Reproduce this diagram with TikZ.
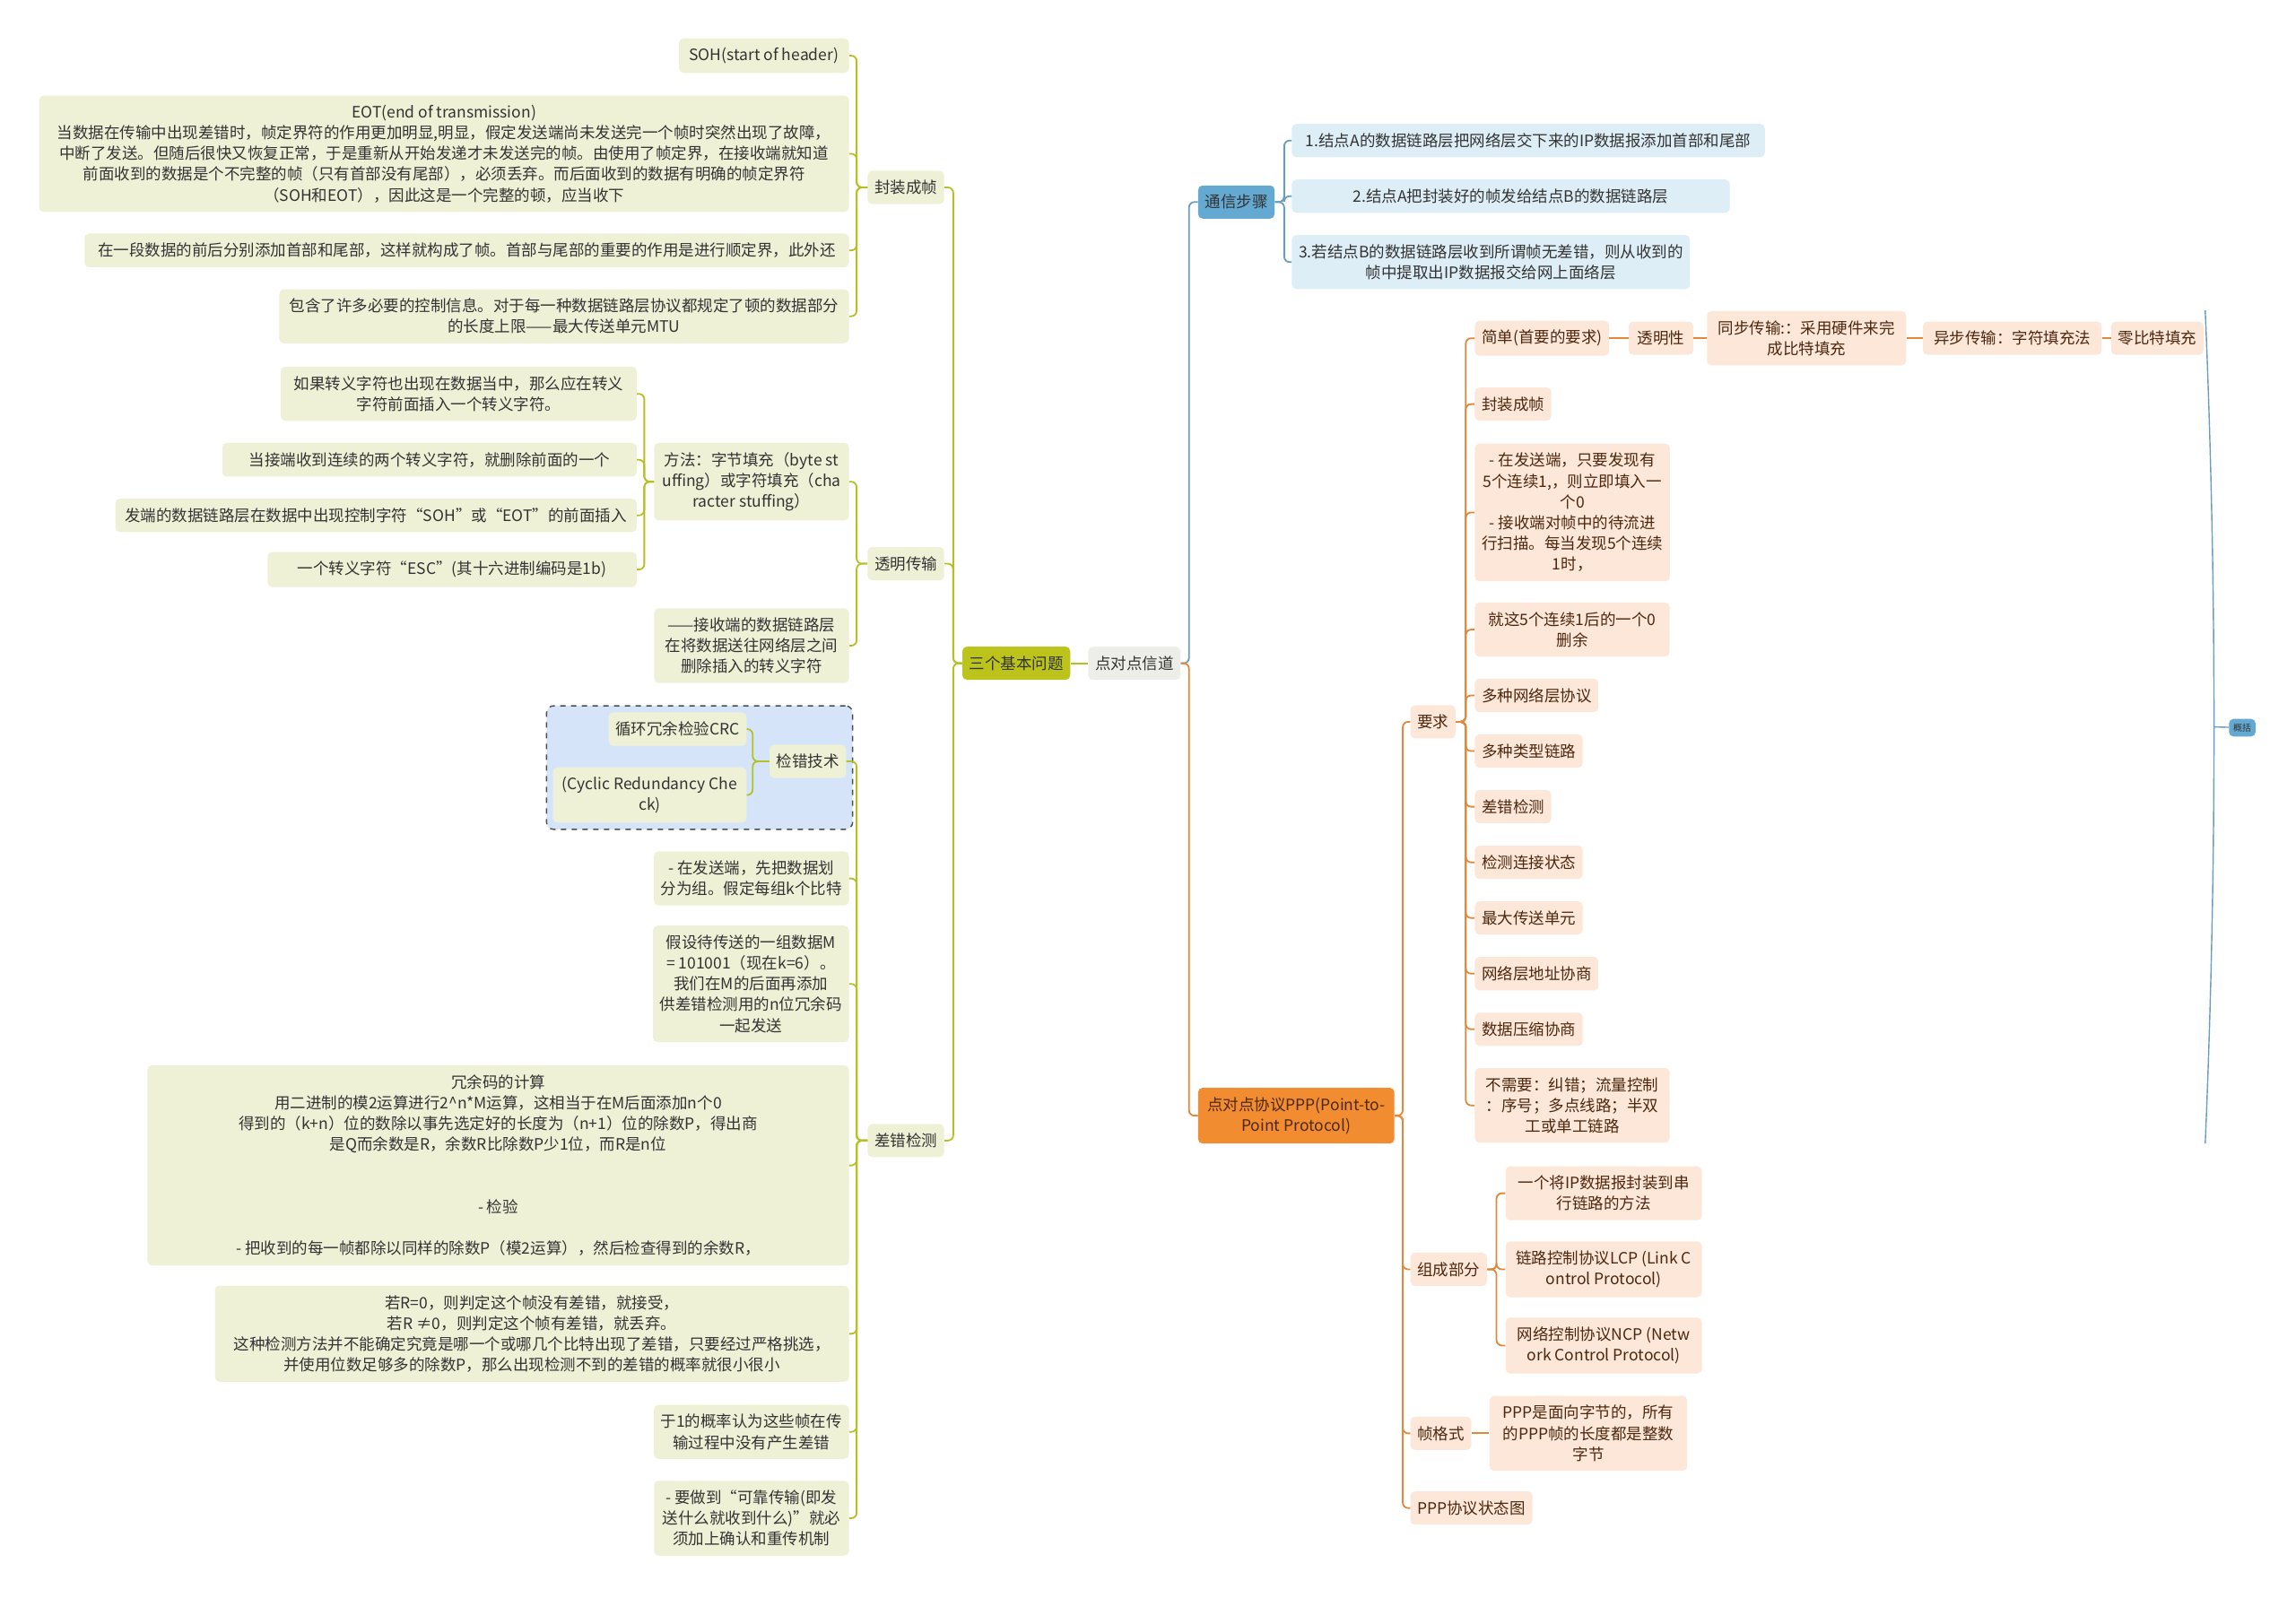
\documentclass[tikz,border=0pt]{standalone}
\usepackage{fontspec}
\setmainfont{Noto Sans CJK SC}
\usepackage{tikz}
\usetikzlibrary{positioning,fit,backgrounds}

\definecolor{olvlight}{HTML}{EFF1D6}
\definecolor{olvdark}{HTML}{BCC41C}
\definecolor{olvline}{HTML}{B5C024}
\definecolor{chanfill}{HTML}{EEEEE8}
\definecolor{blulight}{HTML}{DDEEF7}
\definecolor{bludark}{HTML}{63A9D1}
\definecolor{bluline}{HTML}{6A9EBE}
\definecolor{orglight}{HTML}{FDE7D8}
\definecolor{orgdark}{HTML}{F28C30}
\definecolor{orgline}{HTML}{E3873A}
\definecolor{orgink}{HTML}{4D2810}
\definecolor{ink}{HTML}{333333}
\definecolor{crcfill}{HTML}{D6E4FA}

\newcommand\mmfont{\fontsize{8.75pt}{11.6pt}\selectfont}
\newcommand\gkfont{\fontsize{5pt}{6pt}\selectfont}

\begin{document}
\begin{tikzpicture}[x=0.8163pt,y=-0.8163pt,
    topic/.style={rounded corners=2.5pt,inner xsep=3.8pt,inner ysep=5.2pt,align=center,font=\mmfont,text=ink},
    olv/.style={topic,fill=olvlight},
    olvtop/.style={topic,fill=olvdark},
    chan/.style={topic,fill=chanfill},
    blu/.style={topic,fill=blulight},
    blutop/.style={topic,fill=bludark},
    org/.style={topic,fill=orglight,text=orgink},
    orgtop/.style={topic,fill=orgdark,text=orgink},
    bw/.style={minimum width=#1*0.8163pt},
    conn/.style={line width=0.9pt,rounded corners=3pt},
    olvlink/.style={conn,draw=olvline},
    blulink/.style={conn,draw=bluline},
    orglink/.style={conn,draw=orgline}]

  \useasboundingbox (0,0) rectangle (1568,1091);
  \begin{scope}[on background layer]
    \fill[white] (0,0) rectangle (1568,1091);
  \end{scope}

  \node[olvtop,anchor=west] (sjwt) at (657,453) {三个基本问题};
  \node[chan,anchor=west]   (ddx)  at (743,453) {点对点信道};

  \node[olv,anchor=east] (fzcz) at (645,128) {封装成帧};
  \node[olv,anchor=east] (tmcs) at (645,385) {透明传输};
  \node[olv,anchor=east] (ccjc) at (645,779) {差错检测};

  \node[olv,anchor=east,bw=116] (soh) at (580,38)  {SOH(start of header)};
  \node[olv,anchor=east,bw=553] (eot) at (580,105) {EOT(end of transmission)\\当数据在传输中出现差错时，帧定界符的作用更加明显,明显，假定发送端尚未发送完一个帧时突然出现了故障，\\中断了发送。但随后很快又恢复正常，于是重新从开始发递才未发送完的帧。由使用了帧定界，在接收端就知道\\前面收到的数据是个不完整的帧（只有首部没有尾部），必须丢弃。而后面收到的数据有明确的帧定界符\\（SOH和EOT），因此这是一个完整的顿，应当收下};
  \node[olv,anchor=east,bw=522] (zcy) at (580,171) {在一段数据的前后分别添加首部和尾部，这样就构成了帧。首部与尾部的重要的作用是进行顺定界，此外还};
  \node[olv,anchor=east,bw=389] (bhl) at (580,216) {包含了许多必要的控制信息。对于每一种数据链路层协议都规定了顿的数据部分\\的长度上限——最大传送单元MTU};

  \node[olv,anchor=east,bw=133] (ff)  at (580,329) {方法：字节填充（byte st\\uffing）或字符填充（cha\\racter stuffing）};
  \node[olv,anchor=east,bw=133] (jsd) at (580,441) {——接收端的数据链路层\\在将数据送往网络层之间\\删除插入的转义字符};
  \node[olv,anchor=east,bw=243] (zy1) at (435,269) {如果转义字符也出现在数据当中，那么应在转义\\字符前面插入一个转义字符。};
  \node[olv,anchor=east,bw=283] (zy2) at (435,314) {当接端收到连续的两个转义字符，就删除前面的一个};
  \node[olv,anchor=east,bw=356] (zy3) at (435,352) {发端的数据链路层在数据中出现控制字符“SOH”或“EOT”的前面插入};
  \node[olv,anchor=east,bw=252] (zy4) at (435,389) {一个转义字符“ESC”(其十六进制编码是1b)};

  \node[olv,anchor=east]        (jcjs) at (578,520) {检错技术};
  \node[olv,anchor=east,bw=93]  (crc1) at (510,498) {循环冗余检验CRC};
  \node[olv,anchor=east,bw=132] (crc2) at (510,543) {(Cyclic Redundancy Che\\ck)};
  \node[olv,anchor=east,bw=133] (cc1) at (580,600) {- 在发送端，先把数据划\\分为组。假定每组k个比特};
  \node[olv,anchor=east,bw=133] (cc2) at (580,672) {假设待传送的一组数据M\\= 101001（现在k=6）。\\我们在M的后面再添加\\供差错检测用的n位冗余码\\一起发送};
  \node[olv,anchor=east,bw=479] (cc3) at (580,796) {冗余码的计算\\用二进制的模2运算进行2\textasciicircum{}n*M运算，这相当于在M后面添加n个0\\得到的（k+n）位的数除以事先选定好的长度为（n+1）位的除数P，得出商\\是Q而余数是R，余数R比除数P少1位，而R是n位\\ \mbox{}\\ \mbox{}\\- 检验\\ \mbox{}\\- 把收到的每一帧都除以同样的除数P（模2运算），然后检查得到的余数R，};
  \node[olv,anchor=east,bw=433] (cc4) at (580,911) {若R=0，则判定这个帧没有差错，就接受，\\若R ≠0，则判定这个帧有差错，就丢弃。\\这种检测方法并不能确定究竟是哪一个或哪几个比特出现了差错，只要经过严格挑选，\\并使用位数足够多的除数P，那么出现检测不到的差错的概率就很小很小};
  \node[olv,anchor=east,bw=133] (cc5) at (580,978)  {于1的概率认为这些帧在传\\输过程中没有产生差错};
  \node[olv,anchor=east,bw=133] (cc6) at (580,1037) {- 要做到“可靠传输(即发\\送什么就收到什么)”就必\\须加上确认和重传机制};

  \begin{scope}[on background layer]
    \node[fit=(crc1)(crc2)(jcjs),inner sep=3.5pt,draw=black!70,dashed,line width=0.7pt,fill=crcfill,rounded corners=4pt] (crcbox) {};
  \end{scope}

  \node[blutop,anchor=west] (txbz) at (818,138) {通信步骤};
  \node[blu,anchor=west,bw=323] (bz1) at (882,96)  {1.结点A的数据链路层把网络层交下来的IP数据报添加首部和尾部};
  \node[blu,anchor=west,bw=299] (bz2) at (882,134) {2.结点A把封装好的帧发给结点B的数据链路层};
  \node[blu,anchor=west,bw=271] (bz3) at (882,179) {3.若结点B的数据链路层收到所谓帧无差错，则从收到的\\帧中提取出IP数据报交给网上面络层};

  \node[orgtop,anchor=west,bw=134] (ppp) at (818,762) {点对点协议PPP(Point-to-\\Point Protocol)};
  \node[org,anchor=west] (yq)   at (963,493)  {要求};
  \node[org,anchor=west] (zcbf) at (963,867)  {组成部分};
  \node[org,anchor=west] (zgs)  at (963,979)  {帧格式};
  \node[org,anchor=west] (ztt)  at (963,1030) {PPP协议状态图};

  \node[org,anchor=west,bw=91] (yq1) at (1007,231) {简单(首要的要求)};
  \node[org,bw=44,right=10.6pt of yq1]  (tmx)  {透明性};
  \node[org,bw=136,right=7.3pt of tmx]  (tbcs) {同步传输:：采用硬件来完\\成比特填充};
  \node[org,bw=122,right=9pt of tbcs]   (ybcs) {异步传输：字符填充法};
  \node[org,bw=63,right=4.9pt of ybcs]  (lbt)  {零比特填充};
  \node[org,anchor=west] (yq2) at (1007,276) {封装成帧};
  \node[org,anchor=west,bw=133] (yq3) at (1007,350) {- 在发送端，只要发现有\\5个连续1,，则立即填入一\\个0\\- 接收端对帧中的待流进\\行扫描。每当发现5个连续\\1时，};
  \node[org,anchor=west,bw=133] (yq4) at (1007,430) {就这5个连续1后的一个0\\删余};
  \node[org,anchor=west] (yq5)  at (1007,475) {多种网络层协议};
  \node[org,anchor=west] (yq6)  at (1007,513) {多种类型链路};
  \node[org,anchor=west] (yq7)  at (1007,551) {差错检测};
  \node[org,anchor=west] (yq8)  at (1007,589) {检测连接状态};
  \node[org,anchor=west] (yq9)  at (1007,627) {最大传送单元};
  \node[org,anchor=west] (yq10) at (1007,665) {网络层地址协商};
  \node[org,anchor=west] (yq11) at (1007,703) {数据压缩协商};
  \node[org,anchor=west,bw=133] (yq12) at (1007,755) {不需要：纠错；流量控制\\：序号；多点线路；半双\\工或单工链路};

  \node[org,anchor=west,bw=134] (zc1) at (1028,815) {一个将IP数据报封装到串\\行链路的方法};
  \node[org,anchor=west,bw=134] (zc2) at (1028,867) {链路控制协议LCP (Link C\\ontrol Protocol)};
  \node[org,anchor=west,bw=134] (zc3) at (1028,919) {网络控制协议NCP (Netw\\ork Control Protocol)};
  \node[org,anchor=west,bw=135] (zg1) at (1017,979) {PPP是面向字节的，所有\\的PPP帧的长度都是整数\\字节};

  \node[blutop,font=\gkfont,inner xsep=2.4pt,inner ysep=2.6pt,anchor=west] (gk) at (1522,497) {概括};
  \coordinate (gktop) at (1506,212);
  \coordinate (gkbot) at (1506,781);
  \coordinate (gkmid) at (1512,496.5);

  \draw[olvlink] (sjwt) -- (ddx);
  \foreach \n in {fzcz,tmcs,ccjc} \draw[olvlink] (\n.east) -- ++(6,0) |- (sjwt.west);
  \foreach \n in {soh,eot,zcy,bhl} \draw[olvlink] (\n.east) -- ++(5,0) |- (fzcz.west);
  \foreach \n in {ff,jsd} \draw[olvlink] (\n.east) -- ++(5,0) |- (tmcs.west);
  \foreach \n in {zy1,zy2,zy3,zy4} \draw[olvlink] (\n.east) -- ++(5,0) |- (ff.west);
  \draw[olvlink] (jcjs.east) -- ++(7,0) |- (ccjc.west);
  \foreach \n in {cc1,cc2,cc3,cc4,cc5,cc6} \draw[olvlink] (\n.east) -- ++(5,0) |- (ccjc.west);
  \foreach \n in {crc1,crc2} \draw[olvlink] (\n.east) -- ++(4,0) |- (jcjs.west);

  \draw[blulink] (txbz.west) -- ++(-6,0) |- (ddx.east);
  \draw[orglink] (ppp.west) -- ++(-6,0) |- (ddx.east);
  \foreach \n in {bz1,bz2,bz3} \draw[blulink] (\n.west) -- ++(-5,0) |- (txbz.east);
  \foreach \n in {yq,zcbf,zgs,ztt} \draw[orglink] (\n.west) -- ++(-5,0) |- (ppp.east);
  \foreach \n in {yq1,yq2,yq3,yq4,yq5,yq6,yq7,yq8,yq9,yq10,yq11,yq12} \draw[orglink] (\n.west) -- ++(-6,0) |- (yq.east);
  \foreach \n in {zc1,zc2,zc3} \draw[orglink] (\n.west) -- ++(-6,0) |- (zcbf.east);
  \draw[orglink] (zgs) -- (zg1);
  \draw[orglink] (yq1) -- (tmx) (tmx) -- (tbcs) (tbcs) -- (ybcs) (ybcs) -- (lbt);

  \draw[blulink,line width=0.7pt] (gktop) .. controls (1514,400) and (1514,594) .. (gkbot);
  \draw[blulink,line width=0.7pt] (gkmid) -- (gk);
\end{tikzpicture}
\end{document}
